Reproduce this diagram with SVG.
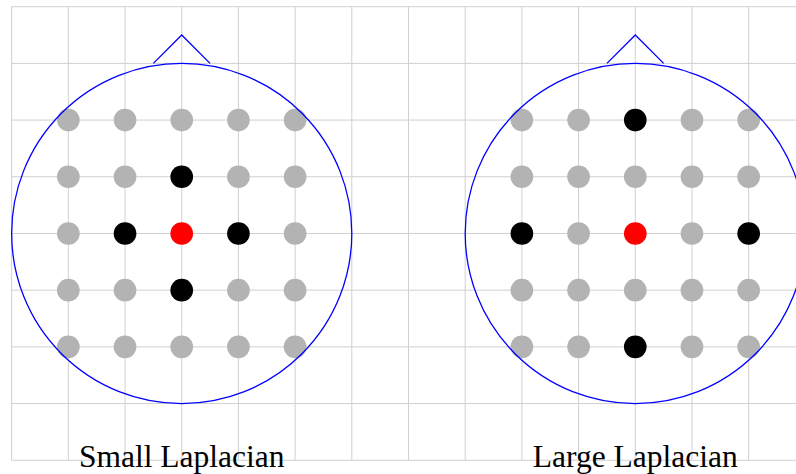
<svg xmlns="http://www.w3.org/2000/svg" width="796" height="474" viewBox="0 0 796 474">
<style>
.grid line{stroke:#d0d0d0;stroke-width:1}
.head{fill:none;stroke:#0000ff;stroke-width:1.3}
.g{fill:#b3b3b3}
.k{fill:#000}
.r{fill:#ff0000}
.lbl{font-family:"Liberation Serif",serif;font-size:31.5px;fill:#000;text-anchor:middle}
</style>
<rect width="796" height="474" fill="#fff"/>
<g class="grid">
<line x1="11.65" y1="6.7" x2="11.65" y2="460.25"/>
<line x1="68.34" y1="6.7" x2="68.34" y2="460.25"/>
<line x1="125.04" y1="6.7" x2="125.04" y2="460.25"/>
<line x1="181.73" y1="6.7" x2="181.73" y2="460.25"/>
<line x1="238.42" y1="6.7" x2="238.42" y2="460.25"/>
<line x1="295.12" y1="6.7" x2="295.12" y2="460.25"/>
<line x1="351.81" y1="6.7" x2="351.81" y2="460.25"/>
<line x1="408.5" y1="6.7" x2="408.5" y2="460.25"/>
<line x1="465.2" y1="6.7" x2="465.2" y2="460.25"/>
<line x1="521.89" y1="6.7" x2="521.89" y2="460.25"/>
<line x1="578.58" y1="6.7" x2="578.58" y2="460.25"/>
<line x1="635.28" y1="6.7" x2="635.28" y2="460.25"/>
<line x1="691.97" y1="6.7" x2="691.97" y2="460.25"/>
<line x1="748.66" y1="6.7" x2="748.66" y2="460.25"/>
<line x1="11.65" y1="6.7" x2="796" y2="6.7"/>
<line x1="11.65" y1="63.39" x2="796" y2="63.39"/>
<line x1="11.65" y1="120.09" x2="796" y2="120.09"/>
<line x1="11.65" y1="176.78" x2="796" y2="176.78"/>
<line x1="11.65" y1="233.47" x2="796" y2="233.47"/>
<line x1="11.65" y1="290.17" x2="796" y2="290.17"/>
<line x1="11.65" y1="346.86" x2="796" y2="346.86"/>
<line x1="11.65" y1="403.55" x2="796" y2="403.55"/>
<line x1="11.65" y1="460.25" x2="796" y2="460.25"/>
</g>
<g id="small-laplacian">
<g id="small-electrodes">
<circle class="g" cx="68.34" cy="120.09" r="11.34"/><circle class="g" cx="125.04" cy="120.09" r="11.34"/><circle class="g" cx="181.73" cy="120.09" r="11.34"/><circle class="g" cx="238.42" cy="120.09" r="11.34"/><circle class="g" cx="295.12" cy="120.09" r="11.34"/>
<circle class="g" cx="68.34" cy="176.78" r="11.34"/><circle class="g" cx="125.04" cy="176.78" r="11.34"/><circle class="k" cx="181.73" cy="176.78" r="11.34"/><circle class="g" cx="238.42" cy="176.78" r="11.34"/><circle class="g" cx="295.12" cy="176.78" r="11.34"/>
<circle class="g" cx="68.34" cy="233.47" r="11.34"/><circle class="k" cx="125.04" cy="233.47" r="11.34"/><circle class="r" cx="181.73" cy="233.47" r="11.34"/><circle class="k" cx="238.42" cy="233.47" r="11.34"/><circle class="g" cx="295.12" cy="233.47" r="11.34"/>
<circle class="g" cx="68.34" cy="290.17" r="11.34"/><circle class="g" cx="125.04" cy="290.17" r="11.34"/><circle class="k" cx="181.73" cy="290.17" r="11.34"/><circle class="g" cx="238.42" cy="290.17" r="11.34"/><circle class="g" cx="295.12" cy="290.17" r="11.34"/>
<circle class="g" cx="68.34" cy="346.86" r="11.34"/><circle class="g" cx="125.04" cy="346.86" r="11.34"/><circle class="g" cx="181.73" cy="346.86" r="11.34"/><circle class="g" cx="238.42" cy="346.86" r="11.34"/><circle class="g" cx="295.12" cy="346.86" r="11.34"/>
</g>
<g id="small-head">
<circle class="head" cx="181.73" cy="233.47" r="170.08"/>
<polyline class="head" points="153.38,63.39 181.73,35.04 210.07,63.39"/>
</g>
<text class="lbl" x="181.73" y="467.3">Small Laplacian</text>
</g>
<g id="large-laplacian">
<g id="large-electrodes">
<circle class="g" cx="521.89" cy="120.09" r="11.34"/><circle class="g" cx="578.58" cy="120.09" r="11.34"/><circle class="k" cx="635.28" cy="120.09" r="11.34"/><circle class="g" cx="691.97" cy="120.09" r="11.34"/><circle class="g" cx="748.66" cy="120.09" r="11.34"/>
<circle class="g" cx="521.89" cy="176.78" r="11.34"/><circle class="g" cx="578.58" cy="176.78" r="11.34"/><circle class="g" cx="635.28" cy="176.78" r="11.34"/><circle class="g" cx="691.97" cy="176.78" r="11.34"/><circle class="g" cx="748.66" cy="176.78" r="11.34"/>
<circle class="k" cx="521.89" cy="233.47" r="11.34"/><circle class="g" cx="578.58" cy="233.47" r="11.34"/><circle class="r" cx="635.28" cy="233.47" r="11.34"/><circle class="g" cx="691.97" cy="233.47" r="11.34"/><circle class="k" cx="748.66" cy="233.47" r="11.34"/>
<circle class="g" cx="521.89" cy="290.17" r="11.34"/><circle class="g" cx="578.58" cy="290.17" r="11.34"/><circle class="g" cx="635.28" cy="290.17" r="11.34"/><circle class="g" cx="691.97" cy="290.17" r="11.34"/><circle class="g" cx="748.66" cy="290.17" r="11.34"/>
<circle class="g" cx="521.89" cy="346.86" r="11.34"/><circle class="g" cx="578.58" cy="346.86" r="11.34"/><circle class="k" cx="635.28" cy="346.86" r="11.34"/><circle class="g" cx="691.97" cy="346.86" r="11.34"/><circle class="g" cx="748.66" cy="346.86" r="11.34"/>
</g>
<g id="large-head">
<circle class="head" cx="635.28" cy="233.47" r="170.08"/>
<polyline class="head" points="606.93,63.39 635.28,35.04 663.63,63.39"/>
</g>
<text class="lbl" x="635.28" y="467.3">Large Laplacian</text>
</g>
</svg>
